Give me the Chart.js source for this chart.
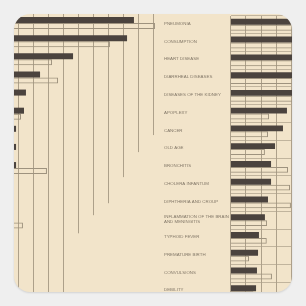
<!DOCTYPE html>
<html><head><meta charset="utf-8">
<script src="https://cdn.jsdelivr.net/npm/chart.js@4"></script>
<style>
html,body{margin:0;padding:0;background:#efefef;width:306px;height:306px;overflow:hidden}
#card{position:absolute;left:14px;top:14px;width:278px;height:278px;background:#f2e4ca;border-radius:16px;overflow:hidden;box-shadow:0 1px 2px rgba(0,0,0,0.12)}
#left{position:absolute;left:-11px;top:0px}
#right{position:absolute;left:146px;top:-1px}
</style></head>
<body>
<div id="card">
<canvas id="left" width="156" height="290"></canvas>
<canvas id="right" width="147" height="290"></canvas>
</div>
<script>
// ---- data ----
const categories = [
  "PNEUMONIA", "CONSUMPTION", "HEART DISEASE", "DIARRHEAL DISEASES",
  "DISEASES OF THE KIDNEY", "APOPLEXY", "CANCER", "OLD AGE", "BRONCHITIS",
  "CHOLERA INFANTUM", "DIPHTHERIA AND CROUP",
  ["INFLAMMATION OF THE BRAIN", "AND MENINGITIS"],
  "TYPHOID FEVER", "PREMATURE BIRTH", "CONVULSIONS", "DEBILITY"
];
const leftDark    = [8.73, 8.27, 4.67, 2.47, 1.53, 1.40, 0.87, 0.87, 0.87, 0.60, 0.60, 0.60, 0.60, 0.60, 0.60, 0.60];
const leftOutline = [10.13, 7.13, 3.27, 3.67, 0.60, 1.20, 0.60, 0.60, 2.93, 0.60, 0.60, 1.33, 0.60, 0.60, 0.60, 0.60];
const rightDark    = [4.70, 4.70, 4.70, 4.70, 4.70, 3.69, 3.43, 2.91, 2.65, 2.65, 2.45, 2.25, 1.86, 1.80, 1.73, 1.67];
const rightOutline = [4.80, 4.80, 4.80, 4.80, 4.80, 2.52, 2.45, 2.25, 3.76, 3.89, 3.95, 2.39, 2.37, 1.21, 2.71, 1.50];
// left grid lines (x values) and the row (category position) where each one stops
const leftGridValues = [1, 2, 3, 4, 5, 6, 7, 8, 9, 10];
const leftGridEnds   = [16, 16, 16, 16, 11.6, 10.6, 9.94, 8.5, 7.12, 6.18];

const DARK = '#4b433e', OUTLINE = '#9e927e', GRID = '#ada08a', TEXT = '#837868';

const stairGrid = {
  id: 'stairGrid',
  beforeDatasetsDraw(chart) {
    const {ctx, chartArea, scales: {x, y}} = chart;
    ctx.save();
    ctx.strokeStyle = GRID;
    ctx.lineWidth = 1;
    leftGridValues.forEach((v, i) => {
      const px = Math.round(x.getPixelForValue(v)) + 0.5;
      ctx.beginPath();
      ctx.moveTo(px, chartArea.top);
      ctx.lineTo(px, y.getPixelForValue(leftGridEnds[i]));
      ctx.stroke();
    });
    ctx.restore();
  }
};

const barCommon = {categoryPercentage: 0.663, barPercentage: 1.0};

new Chart(document.getElementById('left'), {
  type: 'bar',
  data: {
    labels: categories,
    datasets: [
      Object.assign({data: leftDark, backgroundColor: DARK, borderWidth: 0}, barCommon),
      Object.assign({data: leftOutline, backgroundColor: 'rgba(0,0,0,0)', borderColor: OUTLINE, borderWidth: 1}, barCommon)
    ]
  },
  options: {
    indexAxis: 'y', responsive: false, animation: false,
    layout: {padding: 0},
    plugins: {legend: {display: false}, tooltip: {enabled: false}},
    scales: {
      x: {display: false, min: 0, max: 10.4},
      y: {display: false}
    }
  },
  plugins: [stairGrid]
});

new Chart(document.getElementById('right'), {
  type: 'bar',
  data: {
    labels: categories,
    datasets: [
      Object.assign({data: rightDark, backgroundColor: DARK, borderWidth: 0}, barCommon),
      Object.assign({data: rightOutline, backgroundColor: 'rgba(0,0,0,0)', borderColor: OUTLINE, borderWidth: 1}, barCommon)
    ]
  },
  options: {
    indexAxis: 'y', responsive: false, animation: false,
    layout: {padding: {left: 4, right: 0, top: 0, bottom: 0}},
    plugins: {legend: {display: false}, tooltip: {enabled: false}},
    scales: {
      x: {
        position: 'top', min: 0, max: 5,
        ticks: {display: false, stepSize: 1},
        grid: {color: GRID, drawTicks: false, lineWidth: 1},
        border: {display: false},
        afterFit(s) { s.height = 0; }
      },
      y: {
        grid: {color: 'rgba(173,160,138,0.7)', drawTicks: false, offset: true},
        border: {display: false},
        ticks: {
          color: TEXT, autoSkip: false, crossAlign: 'far', padding: 0, labelOffset: -1,
          font: {family: 'Liberation Sans', size: 4.4, lineHeight: 1.3}
        },
        afterFit(s) { s.width = 66.5; }
      }
    }
  }
});
</script>
</body></html>
